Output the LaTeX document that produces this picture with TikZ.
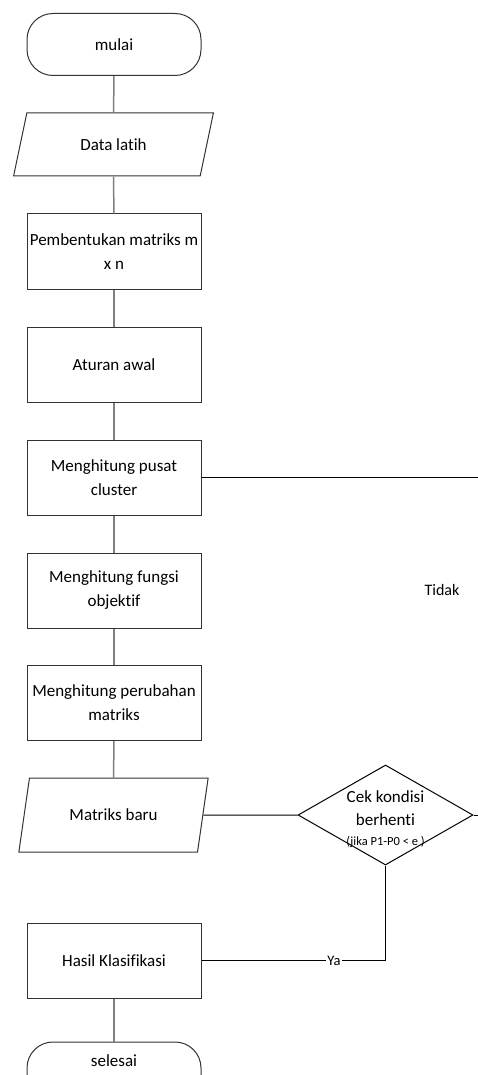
\documentclass[tikz,border=0pt]{standalone}
\usepackage{fontspec}
\setmainfont{Carlito}[Ligatures={NoCommon}]
\usetikzlibrary{shapes.geometric}
\definecolor{edge}{HTML}{333333}
\definecolor{conn}{HTML}{7F7F7F}
\begin{document}
\begin{tikzpicture}[x=1pt,y=-1pt,
  every node/.style={font=\fontsize{17}{24}\selectfont},
  term/.style={draw=edge,line width=1pt,rounded corners=26pt,minimum width=174pt,minimum height=62pt,inner sep=0pt},
  proc/.style={draw=edge,line width=1pt,minimum width=174pt,minimum height=75pt,inner sep=0pt,align=center},
  io/.style={draw=edge,line width=1pt,trapezium,trapezium left angle=#1,trapezium right angle=180-#1,trapezium stretches=true,inner sep=0pt},
  dec/.style={draw=black,line width=1pt,diamond,minimum width=175pt,minimum height=100pt,inner sep=0pt},
  vline/.style={draw=conn,line width=1.5pt},
  hline/.style={draw=black,line width=1pt},
  lbl/.style={inner sep=1pt}
]
\useasboundingbox (0,0) rectangle (478,1075);
\clip (0,0) rectangle (478,1075);
\node[term] (mulai) at (114,44.5) {mulai};
\node[io=67,minimum width=201pt,minimum height=63pt] (data) at (113.5,144.5) {Data latih};
\node[proc] (pemb) at (114,251.5) {Pembentukan matriks m\\x n};
\node[proc] (atur) at (114,364.5) {Aturan awal};
\node[proc] (pusat) at (114,477.5) {Menghitung pusat\\cluster};
\node[proc] (fungsi) at (114,590.5) {Menghitung fungsi\\objektif};
\node[proc] (ubah) at (114,703) {Menghitung perubahan\\matriks};
\node[io=65,minimum width=191pt,minimum height=74pt] (baru) at (113.5,815) {Matriks baru};
\node[dec] (cek) at (385.5,815) {};
\node[align=center,font=\fontsize{17}{23}\selectfont] (cektxt) at (385.5,808) {Cek kondisi\\berhenti};
\node[font=\fontsize{12.5}{14}\selectfont,inner sep=0pt] (jika) at (385.5,842) {(jika P1-P0 < e )};
\node[proc] (hasil) at (114,960.5) {Hasil Klasifikasi};
\node[term] (selesai) at (114,1073) {};
\node (selesaitxt) at (114,1061) {selesai};
\node[font=\fontsize{16}{18}\selectfont] (tidak) at (442,590) {Tidak};

\draw[vline] (mulai) -- (data);
\draw[vline] (data) -- (pemb);
\draw[vline] (pemb) -- (atur);
\draw[vline] (atur) -- (pusat);
\draw[vline] (pusat) -- (fungsi);
\draw[vline] (fungsi) -- (ubah);
\draw[vline] (ubah) -- (baru);
\draw[vline] (hasil) -- (selesai);
\draw[hline] (baru.east) -- (cek.west);
\draw[hline] (cek.east) -- ++(25,0) coordinate (loop) |- (pusat.east);
\draw[hline] (cek.south) |- (hasil.east) node[pos=0.64,fill=white,lbl,font=\fontsize{14.5}{16}\selectfont] (ya) {Ya};
\end{tikzpicture}
\end{document}
